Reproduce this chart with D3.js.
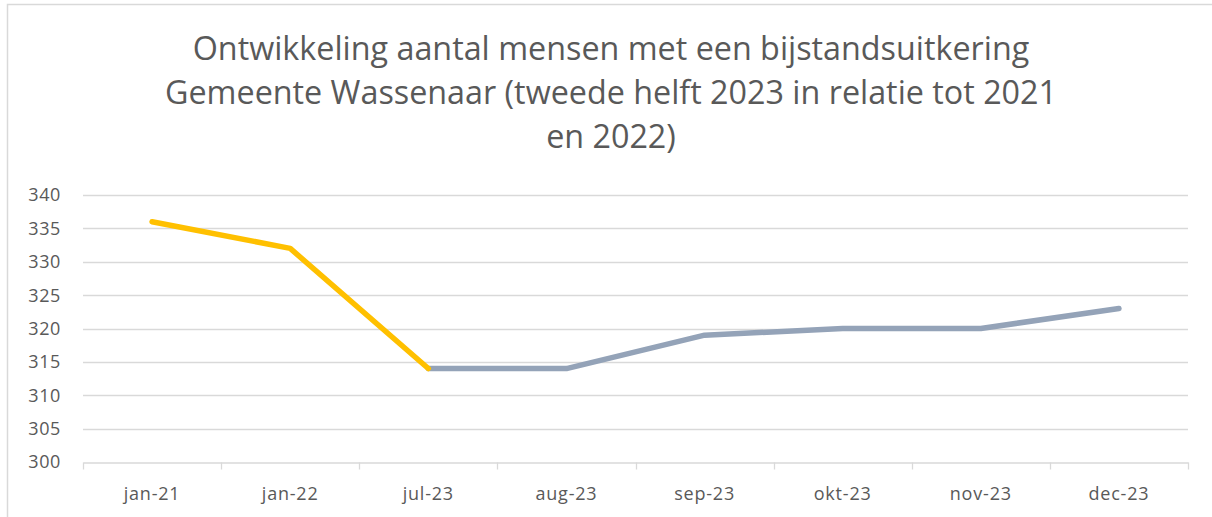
<!DOCTYPE html>
<html>
<head>
<meta charset="utf-8">
<script src="https://cdn.jsdelivr.net/npm/d3@7"></script>
<style>
  body { margin: 0; background: #fff; }
  svg { display: block; }
</style>
</head>
<body>
<div id="chart"></div>
<script>
// categories and values
const categories = ["jan-21", "jan-22", "jul-23", "aug-23", "sep-23", "okt-23", "nov-23", "dec-23"];
const earlyValues = [336, 332, 314, null, null, null, null, null];
const lateValues = [null, null, 314, 314, 319, 320, 320, 323];
const yTicks = [300, 305, 310, 315, 320, 325, 330, 335, 340];
const titleLines = [
  "Ontwikkeling aantal mensen met een bijstandsuitkering",
  "Gemeente Wassenaar (tweede helft 2023 in relatie tot 2021",
  "en 2022)"
];

const width = 1212, height = 517;
const margin = {top: 195, right: 24, bottom: 55, left: 83};
const font = "'Open Sans', 'Liberation Sans', sans-serif";
const textColor = "#595959";
const labelSize = 18;

const svg = d3.select("#chart").append("svg")
  .attr("width", width)
  .attr("height", height);

// chart border
svg.append("rect")
  .attr("x", 7.5).attr("y", 4.5)
  .attr("width", width + 10).attr("height", height + 10)
  .attr("fill", "none")
  .attr("stroke", "#d9d9d9")
  .attr("stroke-width", 1.5);

// title
const title = svg.append("g");
titleLines.forEach(function(t, i) {
  title.append("text")
    .attr("x", 611)
    .attr("y", 60 + i * 44)
    .attr("text-anchor", "middle")
    .attr("font-family", font)
    .attr("font-size", 30)
    .attr("fill", textColor)
    .text(t);
});
// Calibri is narrower than the installed fonts, so fit the title to the original width
const w0 = title.select("text").node().getComputedTextLength();
title.selectAll("text").attr("font-size", 30 * 837 / w0);

const x = d3.scaleBand()
  .domain(categories)
  .range([margin.left, width - margin.right]);

const y = d3.scaleLinear()
  .domain([300, 340])
  .range([height - margin.bottom, margin.top]);

// gridlines
svg.append("g")
  .selectAll("line")
  .data(yTicks.slice(1))
  .enter()
  .append("line")
  .attr("x1", margin.left)
  .attr("x2", width - margin.right)
  .attr("y1", function(d) { return Math.round(y(d)) + 0.5; })
  .attr("y2", function(d) { return Math.round(y(d)) + 0.5; })
  .attr("stroke", "#d9d9d9")
  .attr("stroke-width", 1.3);

// y axis labels
svg.append("g")
  .selectAll("text")
  .data(yTicks)
  .enter()
  .append("text")
  .attr("x", 61)
  .attr("y", function(d) { return y(d); })
  .attr("dy", "0.36em")
  .attr("text-anchor", "end")
  .attr("font-family", font)
  .attr("font-size", labelSize)
  .attr("letter-spacing", 0.6)
  .attr("fill", textColor)
  .text(function(d) { return d; });

// x axis
const xAxis = svg.append("g")
  .attr("transform", "translate(0," + (Math.round(y(300)) + 0.5) + ")")
  .call(d3.axisBottom(x).tickSize(0).tickFormat(""));
xAxis.select(".domain").attr("stroke", "#d9d9d9").attr("stroke-width", 1.3);

const boundaries = categories.map(function(c) { return x(c); }).concat([x.range()[1]]);
xAxis.selectAll(".bound")
  .data(boundaries)
  .enter()
  .append("line")
  .attr("x1", function(d) { return Math.round(d) + 0.5; })
  .attr("x2", function(d) { return Math.round(d) + 0.5; })
  .attr("y1", 0)
  .attr("y2", 7)
  .attr("stroke", "#d9d9d9")
  .attr("stroke-width", 1.3);

svg.append("g")
  .selectAll("text")
  .data(categories)
  .enter()
  .append("text")
  .attr("x", function(d) { return x(d) + x.bandwidth() / 2; })
  .attr("y", 500)
  .attr("text-anchor", "middle")
  .attr("font-family", font)
  .attr("font-size", labelSize)
  .attr("letter-spacing", 0.8)
  .attr("fill", textColor)
  .text(function(d) { return d; });

// lines
const line = d3.line()
  .defined(function(d) { return d.v !== null; })
  .x(function(d) { return x(d.c) + x.bandwidth() / 2; })
  .y(function(d) { return y(d.v); });

const series = [
  {values: lateValues, color: "#94a3b8"},
  {values: earlyValues, color: "#ffc000"}
];

svg.append("g")
  .selectAll("path")
  .data(series)
  .enter()
  .append("path")
  .attr("d", function(s) {
    return line(categories.map(function(c, i) { return {c: c, v: s.values[i]}; }));
  })
  .attr("fill", "none")
  .attr("stroke", function(s) { return s.color; })
  .attr("stroke-width", 5.5)
  .attr("stroke-linecap", "round")
  .attr("stroke-linejoin", "round");
</script>
</body>
</html>
